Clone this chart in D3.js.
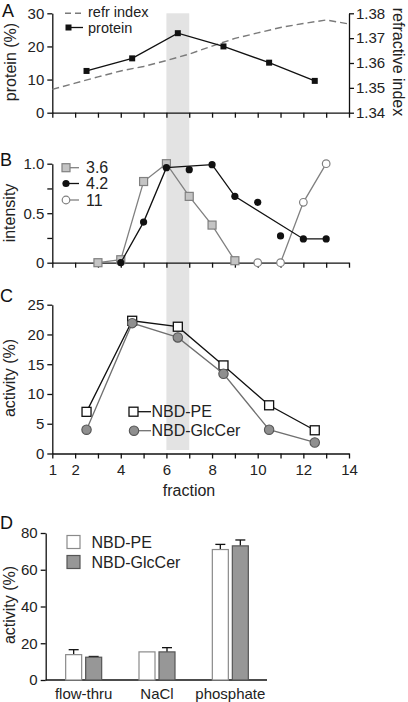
<!DOCTYPE html>
<html><head><meta charset="utf-8">
<script src="https://cdn.jsdelivr.net/npm/d3@7"></script>
<style>
body{margin:0;background:#fff;}
svg{display:block;font-family:"Liberation Sans",Arial,Helvetica,sans-serif;}
.axis text{font-size:15px;fill:#222;}
.axis path,.axis line{stroke:#111;stroke-width:1.3;}
</style></head>
<body>
<script>
// ---------- DATA ----------
const fractionTicks = [1,2,3,4,5,6,7,8,9,10,11,12,13,14];
const fractionLabels = [1,2,4,6,8,10,12,14];
const shadeRange = [6,7];

// Panel A
const proteinFraction = [2.5,4.5,6.5,8.5,10.5,12.5];
const proteinPct = [12.6,16.4,24.0,20.0,15.1,9.6];
const refrFraction = [1,2,3,4,5,6,7,8,9,10,11,12,13,14];
const refrIndex = [1.3494,1.3519,1.3544,1.3568,1.3586,1.3610,1.3636,1.3668,1.3699,1.3721,1.3743,1.3759,1.3773,1.3757];
const proteinTicks = [0,10,20,30];
const refrTicks = [1.34,1.35,1.36,1.37,1.38];

// Panel B
const frac36 = [3,4,5,6,7,8,9];
const int36 = [0,0.03,0.82,1.0,0.67,0.38,0.02];
const frac42 = [4,5,6,7,8,9,10,11,12,13];
const int42 = [0,0.41,0.96,0.94,0.99,0.67,0.61,0.27,0.24,0.24];
const onLine42 = [true,true,true,false,true,true,false,false,true,true];
const frac11 = [10,11,12,13];
const int11 = [0,0,0.61,1.0];
const intensityTicks = [0,0.25,0.5,0.75,1.0];
const intensityLabels = {0:"0",0.5:"0.5",1:"1.0"};

// Panel C
const fracC = [2.5,4.5,6.5,8.5,10.5,12.5];
const actPE = [7.0,22.3,21.3,14.8,8.1,3.9];
const actGlc = [4.0,21.9,19.5,13.4,4.0,1.85];
const activityTicksC = [0,5,10,15,20,25];

// Panel D
const groupsD = ["flow-thru","NaCl","phosphate"];
const seriesD = ["NBD-PE","NBD-GlcCer"];
const peD = [13.8,15.3,71.0];
const peErrD = [2.7,0,2.8];
const glcD = [12.4,15.3,73.0];
const glcErrD = [0.4,2.3,3.2];
const activityTicksD = [0,20,40,60,80];

// ---------- SVG ----------
const W=408,H=702;
const svg=d3.select("body").append("svg").attr("width",W).attr("height",H);

const x=d3.scaleLinear().domain([1,14]).range([52.3,349]);

// shaded band
svg.append("rect").attr("x",x(shadeRange[0])).attr("y",13.3)
  .attr("width",x(shadeRange[1])-x(shadeRange[0])).attr("height",450-13.3)
  .attr("fill","#e3e3e3");

function styleAxis(g){g.attr("class","axis");g.selectAll(".tick line").attr("stroke","#111");return g;}
function letter(t,xx,yy){svg.append("text").attr("x",xx).attr("y",yy).attr("font-size",18).attr("fill","#111").text(t);}
function ytitle(t,xx,yy,rot){svg.append("text").attr("transform",`translate(${xx},${yy}) rotate(${rot})`)
  .attr("text-anchor","middle").attr("font-size",16).attr("fill","#222").text(t);}

// ---------- Panel A ----------
const yA=d3.scaleLinear().domain([0,30]).range([112.7,13.3]);
const yR=d3.scaleLinear().domain([1.34,1.38]).range([112.7,13.3]);
styleAxis(svg.append("g").attr("transform",`translate(0,${yA(0)})`)
  .call(d3.axisBottom(x).tickValues(fractionTicks).tickFormat("").tickSize(5).tickSizeOuter(0)));
styleAxis(svg.append("g").attr("transform",`translate(${x(1)},0)`)
  .call(d3.axisLeft(yA).tickValues(proteinTicks).tickSize(5).tickSizeOuter(0).tickPadding(3)));
styleAxis(svg.append("g").attr("transform",`translate(${x(14)},0)`)
  .call(d3.axisRight(yR).tickValues(refrTicks).tickFormat(d3.format(".2f")).tickSize(5).tickSizeOuter(0).tickPadding(2)));
svg.append("path").datum(refrFraction.map((f,i)=>[f,refrIndex[i]]))
  .attr("d",d3.line().x(d=>x(d[0])).y(d=>yR(d[1])))
  .attr("fill","none").attr("stroke","#7a7a7a").attr("stroke-width",1.4).attr("stroke-dasharray","7,4");
svg.append("path").datum(proteinFraction.map((f,i)=>[f,proteinPct[i]]))
  .attr("d",d3.line().x(d=>x(d[0])).y(d=>yA(d[1])))
  .attr("fill","none").attr("stroke","#111").attr("stroke-width",1.3);
svg.selectAll(".protSq").data(proteinFraction.map((f,i)=>[f,proteinPct[i]])).enter().append("rect")
  .attr("x",d=>x(d[0])-3).attr("y",d=>yA(d[1])-3).attr("width",6).attr("height",6).attr("fill","#111");
// legend A
svg.append("line").attr("x1",65).attr("x2",83).attr("y1",13.3).attr("y2",13.3)
  .attr("stroke","#7a7a7a").attr("stroke-width",1.4).attr("stroke-dasharray","6,4");
svg.append("text").attr("x",88).attr("y",17.3).attr("font-size",14.5).attr("fill","#222").text("refr index");
svg.append("line").attr("x1",68).attr("x2",83).attr("y1",27.5).attr("y2",27.5).attr("stroke","#111").attr("stroke-width",1.3);
svg.append("rect").attr("x",65.5).attr("y",24.5).attr("width",6).attr("height",6).attr("fill","#111");
svg.append("text").attr("x",88).attr("y",32.5).attr("font-size",14.5).attr("fill","#222").text("protein");
letter("A",2,17);
ytitle("protein (%)",16,62,-90);
ytitle("refractive index",393,62,90);

// ---------- Panel B ----------
const yB=d3.scaleLinear().domain([0,1]).range([262.7,163.7]);
styleAxis(svg.append("g").attr("transform",`translate(0,${yB(0)})`)
  .call(d3.axisBottom(x).tickValues(fractionTicks).tickFormat("").tickSize(5).tickSizeOuter(0)));
styleAxis(svg.append("g").attr("transform",`translate(${x(1)},0)`)
  .call(d3.axisLeft(yB).tickValues(intensityTicks).tickFormat(d=>intensityLabels[d]||"").tickSize(5).tickSizeOuter(0).tickPadding(3)));
const lineB=d3.line().x(d=>x(d[0])).y(d=>yB(d[1]));
// 3.6
const d36=frac36.map((f,i)=>[f,int36[i]]);
svg.append("path").datum(d36).attr("d",lineB).attr("fill","none").attr("stroke","#808080").attr("stroke-width",1.3);
svg.selectAll(".s36").data(d36).enter().append("rect")
  .attr("x",d=>x(d[0])-4).attr("y",d=>yB(d[1])-4).attr("width",8).attr("height",8)
  .attr("fill","#c4c4c4").attr("stroke","#808080").attr("stroke-width",1.2);
// 11
const d11=frac11.map((f,i)=>[f,int11[i]]);
svg.append("path").datum(d11).attr("d",lineB).attr("fill","none").attr("stroke","#808080").attr("stroke-width",1.3);
svg.selectAll(".s11").data(d11).enter().append("circle")
  .attr("cx",d=>x(d[0])).attr("cy",d=>yB(d[1])).attr("r",3.8)
  .attr("fill","#fff").attr("stroke","#808080").attr("stroke-width",1.2);
// 4.2
const d42=frac42.map((f,i)=>[f,int42[i],onLine42[i]]);
svg.append("path").datum(d42.filter(d=>d[2])).attr("d",lineB).attr("fill","none").attr("stroke","#111").attr("stroke-width",1.3);
svg.selectAll(".s42").data(d42).enter().append("circle")
  .attr("cx",d=>x(d[0])).attr("cy",d=>yB(d[1])).attr("r",3.6).attr("fill","#111");
// legend B
svg.append("line").attr("x1",66).attr("x2",79).attr("y1",167.7).attr("y2",167.7).attr("stroke","#808080").attr("stroke-width",1.3);
svg.append("rect").attr("x",62).attr("y",163.7).attr("width",8).attr("height",8).attr("fill","#c4c4c4").attr("stroke","#808080").attr("stroke-width",1.2);
svg.append("line").attr("x1",66).attr("x2",79).attr("y1",183.5).attr("y2",183.5).attr("stroke","#111").attr("stroke-width",1.3);
svg.append("circle").attr("cx",66).attr("cy",183.5).attr("r",3.6).attr("fill","#111");
svg.append("line").attr("x1",66).attr("x2",79).attr("y1",200).attr("y2",200).attr("stroke","#808080").attr("stroke-width",1.3);
svg.append("circle").attr("cx",66).attr("cy",200).attr("r",3.8).attr("fill","#fff").attr("stroke","#808080").attr("stroke-width",1.2);
[["3.6",167.7],["4.2",183.5],["11",200]].forEach(([t,yy])=>
  svg.append("text").attr("x",86).attr("y",yy+5.5).attr("font-size",16).attr("fill","#222").text(t));
letter("B",0,166);
ytitle("intensity",15,213,-90);

// ---------- Panel C ----------
const yC=d3.scaleLinear().domain([0,25]).range([453.5,304.7]);
styleAxis(svg.append("g").attr("transform",`translate(0,${yC(0)})`)
  .call(d3.axisBottom(x).tickValues(fractionTicks).tickFormat(d=>fractionLabels.includes(d)?d:"").tickSize(5).tickSizeOuter(0).tickPadding(6)));
styleAxis(svg.append("g").attr("transform",`translate(${x(1)},0)`)
  .call(d3.axisLeft(yC).tickValues(activityTicksC).tickSize(5).tickSizeOuter(0).tickPadding(3)));
const lineC=d3.line().x(d=>x(d[0])).y(d=>yC(d[1]));
const dPE=fracC.map((f,i)=>[f,actPE[i]]);
const dGlc=fracC.map((f,i)=>[f,actGlc[i]]);
svg.append("path").datum(dPE).attr("d",lineC).attr("fill","none").attr("stroke","#111").attr("stroke-width",1.3);
svg.selectAll(".sPE").data(dPE).enter().append("rect")
  .attr("x",d=>x(d[0])-4.5).attr("y",d=>yC(d[1])-4.5).attr("width",9).attr("height",9)
  .attr("fill","#fff").attr("stroke","#111").attr("stroke-width",1.3);
svg.append("path").datum(dGlc).attr("d",lineC).attr("fill","none").attr("stroke","#707070").attr("stroke-width",1.3);
svg.selectAll(".sGlc").data(dGlc).enter().append("circle")
  .attr("cx",d=>x(d[0])).attr("cy",d=>yC(d[1])).attr("r",4.7)
  .attr("fill","#8f8f8f").attr("stroke","#555").attr("stroke-width",1.1);
// legend C
svg.append("line").attr("x1",134).attr("x2",151).attr("y1",411.7).attr("y2",411.7).attr("stroke","#111").attr("stroke-width",1.3);
svg.append("rect").attr("x",129).attr("y",407.2).attr("width",9).attr("height",9).attr("fill","#fff").attr("stroke","#111").attr("stroke-width",1.3);
svg.append("line").attr("x1",134).attr("x2",151).attr("y1",430.7).attr("y2",430.7).attr("stroke","#707070").attr("stroke-width",1.3);
svg.append("circle").attr("cx",134).attr("cy",430.7).attr("r",4.7).attr("fill","#8f8f8f").attr("stroke","#555").attr("stroke-width",1.1);
[["NBD-PE",411.7],["NBD-GlcCer",430.7]].forEach(([t,yy])=>
  svg.append("text").attr("x",151.5).attr("y",yy+5.5).attr("font-size",16).attr("fill","#222").text(t));
svg.append("text").attr("x",189).attr("y",495.5).attr("text-anchor","middle").attr("font-size",16).attr("fill","#222").text("fraction");
letter("C",0,302);
ytitle("activity (%)",15,378,-90);

// ---------- Panel D ----------
const yD=d3.scaleLinear().domain([0,80]).range([680,533]);
const xD=d3.scaleBand().domain(groupsD).range([47,267]);
const xSub=d3.scaleBand().domain(seriesD).range([0,36]).paddingInner(0.2);
styleAxis(svg.append("g").attr("transform",`translate(45.7,0)`)
  .call(d3.axisLeft(yD).tickValues(activityTicksD).tickSize(5).tickSizeOuter(0).tickPadding(3)));
const gxD=styleAxis(svg.append("g").attr("transform",`translate(0,${yD(0)})`)
  .call(d3.axisBottom(xD).tickSize(0).tickSizeOuter(0).tickPadding(8)));
gxD.select(".domain").attr("d",`M45.7,0H267`);
gxD.selectAll("text").attr("font-size",16);
const barsD=[];
groupsD.forEach((g,i)=>{
  barsD.push({g,s:seriesD[0],v:peD[i],e:peErrD[i]});
  barsD.push({g,s:seriesD[1],v:glcD[i],e:glcErrD[i]});
});
const bx=d=>xD(d.g)+xD.bandwidth()/2-18+xSub(d.s);
svg.selectAll(".errD").data(barsD.filter(d=>d.e>0)).enter().append("g").each(function(d){
  const cx=bx(d)+xSub.bandwidth()/2, g=d3.select(this);
  g.append("line").attr("x1",cx).attr("x2",cx).attr("y1",yD(d.v)).attr("y2",yD(d.v+d.e)).attr("stroke","#111").attr("stroke-width",1.3);
  g.append("line").attr("x1",cx-5).attr("x2",cx+5).attr("y1",yD(d.v+d.e)).attr("y2",yD(d.v+d.e)).attr("stroke","#111").attr("stroke-width",1.3);
});
svg.selectAll(".barD").data(barsD).enter().append("rect")
  .attr("x",bx).attr("y",d=>yD(d.v)).attr("width",xSub.bandwidth()).attr("height",d=>yD(0)-yD(d.v))
  .attr("fill",d=>d.s===seriesD[0]?"#fff":"#979797")
  .attr("stroke",d=>d.s===seriesD[0]?"#8a8a8a":"#555").attr("stroke-width",1.2);
// legend D
svg.append("rect").attr("x",67).attr("y",535.5).attr("width",13).attr("height",13).attr("fill","#fff").attr("stroke","#8a8a8a").attr("stroke-width",1.2);
svg.append("rect").attr("x",67).attr("y",555.5).attr("width",13).attr("height",13).attr("fill","#979797").attr("stroke","#555").attr("stroke-width",1.2);
[["NBD-PE",542],["NBD-GlcCer",562]].forEach(([t,yy])=>
  svg.append("text").attr("x",91.5).attr("y",yy+5.5).attr("font-size",16).attr("fill","#222").text(t));
letter("D",0,529);
ytitle("activity (%)",15,605,-90);
</script>
</body></html>
